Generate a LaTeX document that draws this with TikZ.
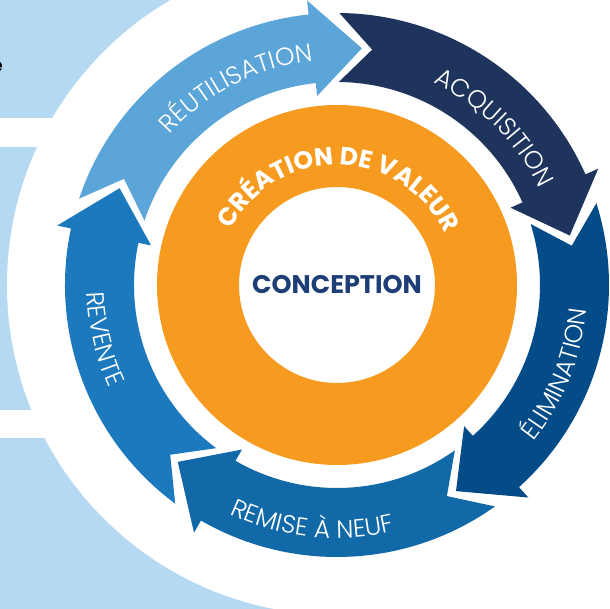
\documentclass[tikz,border=0pt]{standalone}
\usepackage{fontspec}
\setmainfont{Poppins}
\newfontfamily\thinfont{Poppins Light}
\usetikzlibrary{decorations.text}

\definecolor{panelblue}{HTML}{B5D9F2}
\definecolor{reuseblue}{HTML}{5CA5D9}
\definecolor{buynavy}{HTML}{1E345C}
\definecolor{dropblue}{HTML}{044C88}
\definecolor{fixblue}{HTML}{1269A7}
\definecolor{resaleblue}{HTML}{1C79BE}
\definecolor{valueorange}{HTML}{F69B1F}
\definecolor{designnavy}{HTML}{1D3F75}

\newcommand{\ringfont}{\thinfont\fontsize{25}{25}\selectfont\color{white}}
\newcommand{\valuefont}{\bfseries\fontsize{25}{25}\selectfont\color{white}}

\begin{document}
\begin{tikzpicture}[x=1pt, y=1pt,
    outlabel/.style={decorate, decoration={text along path, text align=center, text={|\ringfont|#1}}},
    inlabel/.style={decorate, decoration={text along path, text align=center, text={|\ringfont|#1}}}]

    \useasboundingbox (-337,-324) rectangle (273,285);

    % Background panel
    \fill[panelblue] (-337,-324) rectangle (0,285);
    \fill[white] (-337,138) rectangle (0,167);
    \fill[white] (-337,-153) rectangle (0,-125);
    \fill[white] (0,0) circle[radius=330pt];
    \node[anchor=east, inner sep=0pt, font=\bfseries\fontsize{20}{20}\selectfont] (cutword) at (-334,218) {e};

    % Arrows of the ring
    \foreach \col/\tl/\hd in {reuseblue/161.5/96, buynavy/89.5/24, dropblue/17.5/-48,
                              fixblue/-54.5/-120, resaleblue/-126.5/-192}
        \fill[\col] (\tl:272pt) arc[start angle=\tl, end angle=\hd, radius=272pt]
            -- (\hd:286pt) -- (\hd-12:238pt) -- (\hd:190pt) -- (\hd:203pt)
            arc[start angle=\hd, end angle=\tl, radius=203pt]
            -- (\tl-8:238pt) -- cycle;

    % Ring labels
    \path[outlabel={RÉUTILISATION}] (177:225pt) arc[start angle=177, end angle=57, radius=225pt];
    \path[outlabel={ACQUISITION}] (105:224pt) arc[start angle=105, end angle=-15, radius=224pt];
    \path[inlabel={ÉLIMINATION}] (-82:251pt) arc[start angle=-82, end angle=38, radius=251pt];
    \path[inlabel={REMISE À NEUF}] (-156:253pt) arc[start angle=-156, end angle=-36, radius=253pt];
    \path[inlabel={REVENTE}] (133:250pt) arc[start angle=133, end angle=253, radius=250pt];

    % Value ring
    \fill[valueorange, even odd rule] (0,0) circle[radius=180pt] circle[radius=98pt];
    \path[decorate, decoration={text along path, text align=center, text={|\valuefont|CRÉATION DE VALEUR}}]
        (174:120pt) arc[start angle=174, end angle=4, radius=120pt];

    % Centre
    \node[font=\bfseries\fontsize{25.5}{25.5}\selectfont, text=designnavy] (design) at (0,0) {CONCEPTION};

\end{tikzpicture}
\end{document}
